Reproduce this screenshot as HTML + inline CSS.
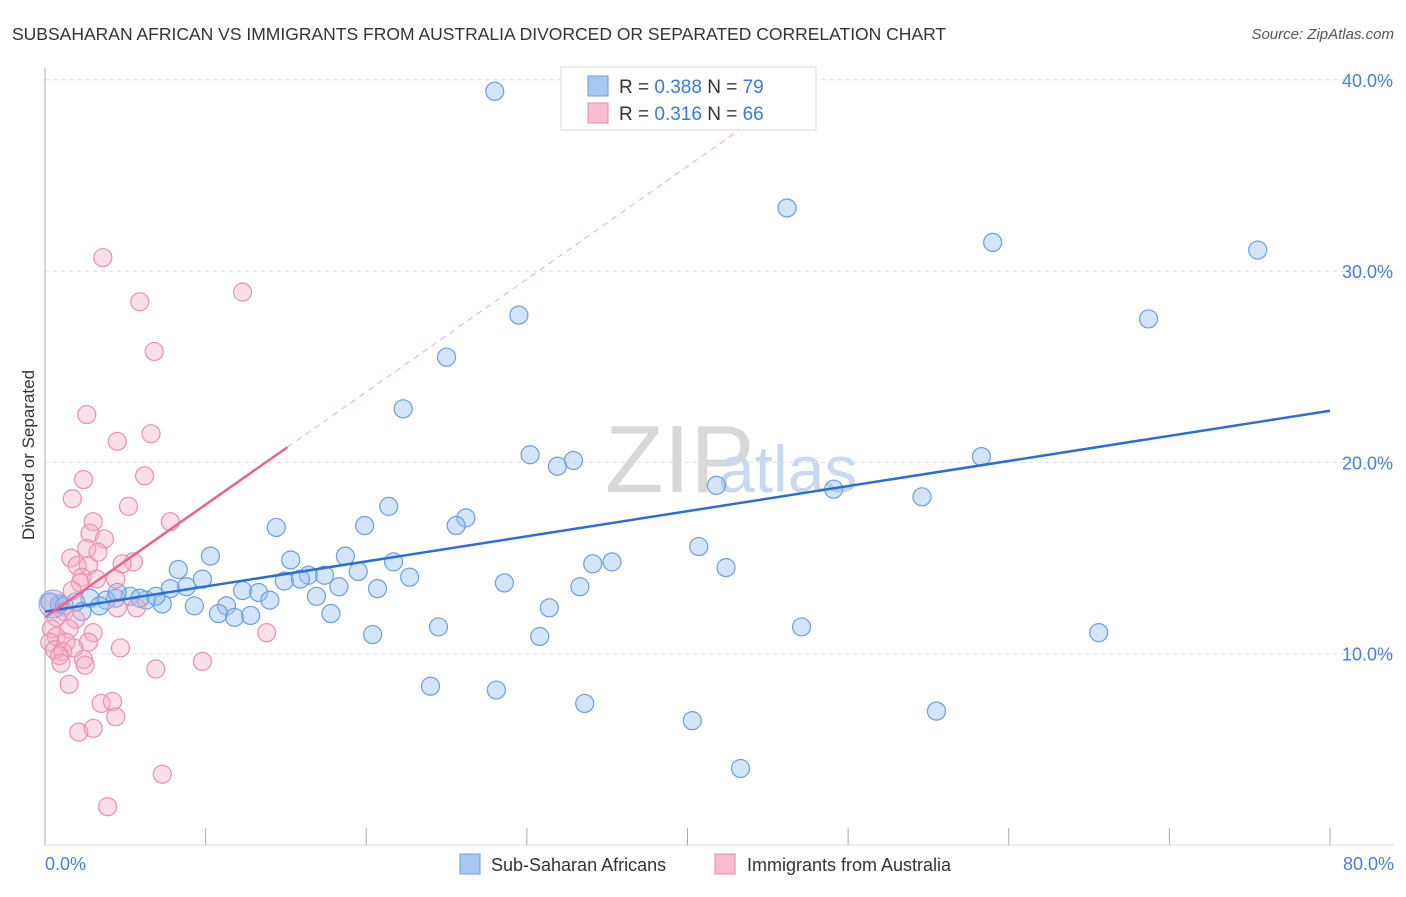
<!DOCTYPE html>
<html><head><meta charset="utf-8"><style>
body{margin:0;background:#fff;font-family:"Liberation Sans",sans-serif;}
svg text{font-family:"Liberation Sans",sans-serif;}
</style></head><body>
<svg id="chart" width="1406" height="892">
<text x="12" y="40" font-size="17.5" fill="#333">SUBSAHARAN AFRICAN VS IMMIGRANTS FROM AUSTRALIA DIVORCED OR SEPARATED CORRELATION CHART</text>
<text x="1394" y="39" font-size="15" fill="#555" font-style="italic" text-anchor="end">Source: ZipAtlas.com</text>
<text x="605" y="492" font-size="96" fill="#d8d8d8" font-family="Liberation Serif">ZIP</text>
<text x="718" y="492" font-size="66" fill="#c8d8ee">atlas</text>
<g id="grid"></g>
<g id="axes"></g>
<g id="pts"></g>
<g id="trends"></g>
<text transform="translate(34,455) rotate(-90)" font-size="17" fill="#333" text-anchor="middle">Divorced or Separated</text>
<text x="45" y="870" font-size="18" fill="#4a7fd4">0.0%</text>
<text x="1394" y="870" font-size="18" fill="#4a7fd4" text-anchor="end">80.0%</text>
<g>
<rect x="561" y="67" width="255" height="63" fill="#fff" stroke="#ddd"/>
<rect x="588" y="76" width="20" height="20" fill="#a9c8f0" stroke="#6a9fe0"/>
<rect x="588" y="103" width="20" height="20" fill="#f7bdd0" stroke="#e88aab"/>
<text x="619" y="93" font-size="19" fill="#333">R = <tspan fill="#3b78d8">0.388</tspan>   N = <tspan fill="#3b78d8">79</tspan></text>
<text x="619" y="120" font-size="19" fill="#333">R =  <tspan fill="#3b78d8">0.316</tspan>   N = <tspan fill="#3b78d8">66</tspan></text>
</g>
<g>
<rect x="460" y="854" width="20" height="20" fill="#a9c8f0" stroke="#6a9fe0"/>
<text x="491" y="871" font-size="18" fill="#333">Sub-Saharan Africans</text></g>
<g>
<rect x="715" y="854" width="20" height="20" fill="#f7bdd0" stroke="#e88aab"/>
<text x="747" y="871" font-size="18" fill="#333">Immigrants from Australia</text></g>
</svg>
<script>
const blueX=[28.0,46.2,59.0,75.5,29.5,68.7,25.0,22.3,30.2,31.9,32.9,58.3,41.8,49.1,54.6,21.4,26.2,25.6,19.9,14.4,40.7,10.3,15.3,18.7,21.7,34.1,35.3,42.4,8.3,16.4,17.4,19.5,22.7,28.6,33.3,9.8,8.8,7.8,14.9,15.9,12.3,13.3,18.3,20.7,16.9,14.0,9.3,11.3,31.4,7.3,6.3,5.3,4.4,3.8,2.8,1.9,0.9,0.3,2.3,1.2,10.8,11.8,12.8,17.8,24.5,47.1,65.6,20.4,30.8,24.0,28.1,33.6,40.3,55.5,43.3,4.5,3.4,5.9,6.9];
const blueY=[39.4,33.3,31.5,31.1,27.7,27.5,25.5,22.8,20.4,19.8,20.1,20.3,18.8,18.6,18.2,17.7,17.1,16.7,16.7,16.6,15.6,15.1,14.9,15.1,14.8,14.7,14.8,14.5,14.4,14.1,14.1,14.3,14.0,13.7,13.5,13.9,13.5,13.4,13.8,13.9,13.3,13.2,13.5,13.4,13.0,12.8,12.5,12.5,12.4,12.6,12.8,13.0,12.9,12.8,12.9,12.7,12.6,12.7,12.2,12.5,12.1,11.9,12.0,12.1,11.4,11.4,11.1,11.0,10.9,8.3,8.1,7.4,6.5,7.0,4.0,13.2,12.5,12.9,13.0];
const pinkX=[3.6,5.9,12.3,6.8,2.6,6.6,4.5,6.2,2.4,1.7,5.2,7.8,3.0,2.8,3.7,2.6,3.3,1.6,5.5,4.8,2.7,2.0,2.3,2.2,4.4,1.7,4.5,1.2,1.9,0.7,1.5,0.4,13.8,3.0,0.7,1.3,2.7,0.3,4.7,0.6,1.1,1.8,0.9,2.4,1.0,9.8,2.5,6.9,1.5,3.5,4.2,4.4,2.1,3.0,7.3,3.9,5.7,3.2];
const pinkY=[30.7,28.4,28.9,25.8,22.5,21.5,21.1,19.3,19.1,18.1,17.7,16.9,16.9,16.3,16.0,15.5,15.3,15.0,14.8,14.7,14.6,14.6,14.0,13.7,13.9,13.3,12.4,12.2,11.8,11.9,11.3,11.3,11.1,11.1,10.9,10.6,10.6,10.6,10.3,10.2,10.1,10.3,9.9,9.7,9.5,9.6,9.4,9.2,8.4,7.4,7.5,6.7,5.9,6.1,3.7,2.0,12.4,13.9];
const blueTrend=[12.2,22.7]; // y at x=0 and x=80
const pinkTrend=[11.9,20.8,15.1]; // y at 0, y at end, x end
const yTicks=[10,20,30,40];
const xTicks=[0,10,20,30,40,50,60,70,80];
const NS='http://www.w3.org/2000/svg';
const sx=v=>45+v*(1285/80);
const sy=v=>845-v*19.13;
function mk(tag,attrs,parent){const e=document.createElementNS(NS,tag);for(const k in attrs)e.setAttribute(k,attrs[k]);document.getElementById(parent).appendChild(e);return e;}
yTicks.forEach(t=>{
 const l=mk('line',{x1:45,x2:1394,y1:sy(t),y2:sy(t),stroke:'#ddd','stroke-dasharray':'4,4'},'grid');
 
 
 const tx=mk('text',{x:1393,y:sy(t)+7,'font-size':18,fill:'#4a7fd4','text-anchor':'end'},'grid');
 tx.textContent=t.toFixed(1)+'%';
 
 
});
const ya=mk('line',{x1:45,x2:45,y1:68,y2:845,stroke:'#aaa'},'axes');


const xa=mk('line',{x1:45,x2:1394,y1:845,y2:845,stroke:'#ddd'},'axes');


xTicks.forEach(t=>{
 const l=mk('line',{x1:sx(t),x2:sx(t),y1:828,y2:845,stroke:'#aaa'},'axes');
 
 
});
blueX.forEach((x,i)=>{
 const c=mk('circle',{cx:sx(x),cy:sy(blueY[i]),r:9,fill:'rgba(150,190,240,0.4)',stroke:'#6a9fe0','stroke-width':1.2},'pts');
 
 
});
pinkX.forEach((x,i)=>{
 const c=mk('circle',{cx:sx(x),cy:sy(pinkY[i]),r:9,fill:'rgba(245,170,195,0.38)',stroke:'#eb8fb0','stroke-width':1.2},'pts');
 
 
});
const big=mk('circle',{cx:sx(0.5),cy:sy(12.6),r:14,fill:'rgba(170,160,220,0.4)',stroke:'#8fa8e0'},'pts');


const bt=mk('line',{x1:sx(0),y1:sy(blueTrend[0]),x2:sx(80),y2:sy(blueTrend[1]),stroke:'#2a6fd6','stroke-width':2.5},'trends');


const slope=(pinkTrend[1]-pinkTrend[0])/pinkTrend[2];
const xe=(39-pinkTrend[0])/slope;
const pd=mk('line',{x1:sx(pinkTrend[2]),y1:sy(pinkTrend[1]),x2:sx(xe),y2:sy(39),stroke:'#f0b0c8','stroke-width':1,'stroke-dasharray':'6,5'},'trends');


const pt=mk('line',{x1:sx(0),y1:sy(pinkTrend[0]),x2:sx(pinkTrend[2]),y2:sy(pinkTrend[1]),stroke:'#e8648f','stroke-width':2.5},'trends');


</script>
</body></html>
